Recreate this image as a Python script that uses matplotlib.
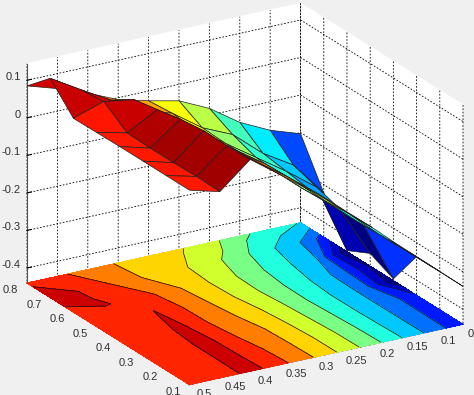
#!/usr/bin/env python3
"""Surface over filled contour, old MATLAB look."""
import numpy as np
import matplotlib
matplotlib.use('Agg')
import matplotlib.pyplot as plt
from matplotlib.colors import LinearSegmentedColormap
from mpl_toolkits.mplot3d import proj3d

x_vals = [0.5, 0.45, 0.4, 0.35, 0.3, 0.25, 0.2, 0.15, 0.1, 0.05]
y_vals = [0.8, 0.7, 0.6, 0.5, 0.4, 0.3, 0.2, 0.1]
z_y08 = [0.085, 0.06, 0.03, -0.005, -0.026, -0.044, -0.082, -0.137, -0.176, -0.203]
z_y07 = [0.144, 0.096, 0.05, 0.0, -0.02, -0.077, -0.113, -0.181, -0.23, -0.322]
z_y06 = [0.076, 0.103, 0.09, 0.03, -0.025, -0.08, -0.135, -0.19, -0.25, -0.437]
z_y05 = [0.077, 0.058, 0.102, 0.04, -0.02, -0.08, -0.14, -0.2, -0.27, -0.406]
z_y04 = [0.078, 0.056, 0.115, 0.04, -0.01, -0.07, -0.14, -0.205, -0.27, -0.435]
z_y03 = [0.078, 0.056, 0.123, 0.05, 0.0, -0.065, -0.135, -0.205, -0.27, -0.337]
z_y02 = [0.078, 0.058, 0.122, 0.06, 0.003, -0.06, -0.13, -0.203, -0.27, -0.338]
z_y01 = [0.078, 0.056, 0.124, 0.065, 0.005, -0.06, -0.128, -0.2, -0.27, -0.339]
levels = [-0.44, -0.4, -0.35, -0.3, -0.25, -0.2, -0.15, -0.1, -0.05, 0.0, 0.05, 0.1, 0.15]
x_ticks = [0.05, 0.1, 0.15, 0.2, 0.25, 0.3, 0.35, 0.4, 0.45, 0.5]
y_ticks = [0.1, 0.2, 0.3, 0.4, 0.5, 0.6, 0.7, 0.8]
z_ticks = [-0.4, -0.3, -0.2, -0.1, 0, 0.1]
z_lim = (-0.44, 0.144)

plt.rcParams['font.family'] = ['Liberation Sans', 'DejaVu Sans']

Z = np.array([z_y08, z_y07, z_y06, z_y05, z_y04, z_y03, z_y02, z_y01])
X, Y = np.meshgrid(x_vals, y_vals)

# matlab's jet ramps differ a little from matplotlib's
jet = LinearSegmentedColormap('matlab_jet', {
    'red': [(0, 0, 0), (0.375, 0, 0), (0.625, 1, 1), (0.875, 1, 1), (1, 0.5, 0.5)],
    'green': [(0, 0, 0), (0.125, 0, 0), (0.375, 1, 1), (0.625, 1, 1), (0.875, 0, 0), (1, 0, 0)],
    'blue': [(0, 0.5, 0.5), (0.125, 1, 1), (0.375, 1, 1), (0.625, 0, 0), (1, 0, 0)],
})
norm = plt.Normalize(Z.min(), Z.max())
band_colors = [jet(norm(l)) for l in levels[:-1]]

# each facet takes the colour of its lower x, lower y corner, as surf does here
face_colors = jet(norm(Z))
face_colors[:-1, :-1] = jet(norm(Z[1:, 1:]))

fig = plt.figure(figsize=(4.74, 3.95), dpi=100, facecolor='#f0f0f0')
ax = fig.add_axes([0, 0, 1, 1], projection='3d', proj_type='ortho', computed_zorder=False)
ax.view_init(elev=21.8, azim=-120.7)
ax.set_box_aspect((318, 318, 236))
ax.set_xlim(0.5, 0.05, view_margin=0)
ax.set_ylim(0.1, 0.8, view_margin=0)
ax.set_zlim(z_lim[0], z_lim[1], view_margin=0)
ax.patch.set_alpha(0)

ax.contourf(X, Y, Z, levels=levels, colors=band_colors, zdir='z', offset=z_lim[0], zorder=1)
ax.contour(X, Y, Z, levels=levels[1:-1], colors='#101010', linewidths=0.5, linestyles='solid',
           zdir='z', offset=z_lim[0], zorder=2)
ax.plot_surface(X, Y, Z, rstride=1, cstride=1, facecolors=face_colors, shade=False,
                edgecolor='#202020', linewidth=0.5, zorder=3)

ax.set_xticks(x_ticks)
ax.set_yticks(y_ticks)
ax.set_zticks(z_ticks)
# built-in labels can't be nudged enough, the real ones are placed below
for axis in (ax.xaxis, ax.yaxis, ax.zaxis):
    axis.set_ticklabels([])
    axis.set_tick_params(label1On=False, label2On=False)
    axis.set_pane_color((1, 1, 1, 1))
    axis.pane.set_edgecolor('white')
    axis.line.set_color('#505050')
    axis.line.set_linewidth(0.8)
    axis._axinfo['grid'].update(color='black', linestyle=(0, (2, 2)), linewidth=0.6)
    axis._axinfo['tick'].update(inward_factor=0.0, outward_factor=0.2)


def fit_axes():
    # move the square axes box so the floor corners land where the reference has them
    left_px, right_px = (27, 395 - 283), (463, 395 - 325)
    fig.canvas.draw()
    xs, ys, _ = proj3d.proj_transform(np.array([0.5, 0.05]), np.array([0.8, 0.1]),
                                      np.array([z_lim[0], z_lim[0]]), ax.get_proj())
    for _ in range(4):
        pos = ax.get_position()
        pts = ax.transData.transform(np.column_stack([xs, ys]))
        side = pos.width * 474 * (right_px[0] - left_px[0]) / (pts[1, 0] - pts[0, 0])
        ax.set_position([pos.x0, pos.y0, side / 474, side / 395])
        fig.canvas.draw()
        pos = ax.get_position()
        pts = ax.transData.transform(np.column_stack([xs, ys]))
        ax.set_position([pos.x0 + (left_px[0] - pts[0, 0]) / 474,
                         pos.y0 + (left_px[1] - pts[0, 1]) / 395, pos.width, pos.height])
        fig.canvas.draw()


def add_label(x, y, z, text, ha='center'):
    # project by hand so the text is an ordinary 2d label
    px, py, _ = proj3d.proj_transform(x, y, z, ax.get_proj())
    ax.text2D(px, py, text, transform=ax.transData, fontsize=8, color='#303030',
              ha=ha, va='center', zorder=5)


fit_axes()

# tick labels sit off the box edges like the reference
for v in x_ticks:
    add_label(v, 0.1 - 0.066, z_lim[0], f'{v:g}')
for v in y_ticks:
    add_label(0.5 + 0.027, v, z_lim[0] - 0.01, f'{v:g}')
for v in z_ticks:
    add_label(0.5 + 0.01, 0.8, v + 0.0115, f'{v:g}', ha='right')

fig.savefig('out.png', dpi=100, facecolor=fig.get_facecolor())
